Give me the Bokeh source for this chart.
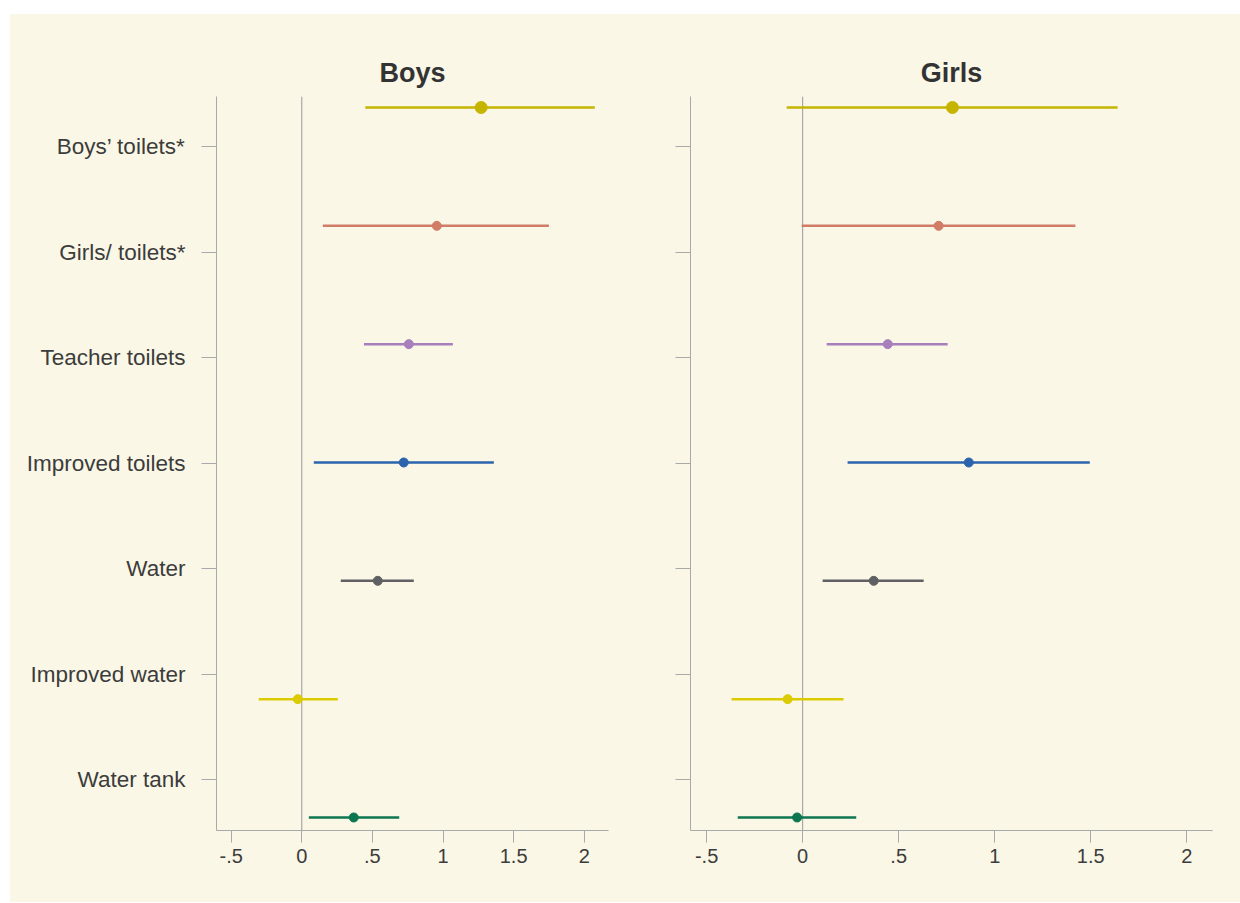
from bokeh.plotting import figure
from bokeh.models import Range1d, FixedTicker, Span
from bokeh.layouts import row
from bokeh.embed import file_html
from bokeh.resources import INLINE

# ---------------- data ----------------
categories = ["Boys\u2019 toilets*", "Girls/ toilets*", "Teacher toilets",
              "Improved toilets", "Water", "Improved water", "Water tank"]

boys_est = [1.27, 0.956, 0.758, 0.722, 0.538, -0.028, 0.368]
boys_lo = [0.45, 0.149, 0.44, 0.085, 0.276, -0.305, 0.05]
boys_hi = [2.075, 1.75, 1.07, 1.36, 0.793, 0.255, 0.69]

girls_est = [0.78, 0.708, 0.443, 0.865, 0.37, -0.078, -0.029]
girls_lo = [-0.083, -0.005, 0.125, 0.234, 0.104, -0.37, -0.338]
girls_hi = [1.64, 1.42, 0.755, 1.495, 0.63, 0.213, 0.279]

x_ticks = [-0.5, 0, 0.5, 1, 1.5, 2]
x_tick_labels = ["-.5", "0", ".5", "1", "1.5", "2"]

# ---------------- styles ----------------
colors = ["#c6b500", "#d07c66", "#a67fbc", "#2b63ad", "#5f5f64", "#dccb00", "#0d7650"]
marker_sizes = [12, 9, 9, 9, 9, 9, 9]
CREAM = "#faf7e6"
AXIS = "#a9a9a9"
TEXT = "#3c3c3c"
FONT = "Liberation Sans"

n = len(categories)
pos = list(range(1, n + 1))


def make_panel(title, est, lo, hi, x_start, x_end, frame_w, b_left, b_right, show_labels):
    p = figure(frame_width=frame_w, frame_height=734,
               x_range=Range1d(x_start, x_end),
               y_range=Range1d(n + 0.483, 0.526),
               output_backend="svg", toolbar_location=None,
               min_border_left=b_left, min_border_right=b_right,
               min_border_top=82, min_border_bottom=72,
               background_fill_color=CREAM, border_fill_color=CREAM,
               outline_line_color=None)
    p.extra_y_ranges = {"pts": Range1d(n + 0.110, 0.907)}
    p.xgrid.visible = False
    p.ygrid.visible = False

    p.title.text = title
    p.title.align = "center"
    p.title.text_font = FONT
    p.title.text_font_size = "27px"
    p.title.text_font_style = "bold"
    p.title.text_color = "#333333"
    p.title.standoff = 17

    # y axis
    yax = p.yaxis[0]
    yax.ticker = FixedTicker(ticks=pos)
    yax.major_label_overrides = {i: (c if show_labels else "") for i, c in zip(pos, categories)}
    yax.major_tick_out = 15
    yax.major_tick_in = 0
    yax.minor_tick_out = 0
    yax.minor_tick_in = 0
    yax.axis_line_color = AXIS
    yax.major_tick_line_color = AXIS
    yax.major_label_text_font = FONT
    yax.major_label_text_font_size = "22.5px"
    yax.major_label_text_color = TEXT
    yax.major_label_standoff = 16

    # x axis
    xax = p.xaxis[0]
    xax.ticker = FixedTicker(ticks=x_ticks)
    xax.major_label_overrides = {t: l for t, l in zip(x_ticks, x_tick_labels)}
    xax.major_tick_out = 12
    xax.major_tick_in = 0
    xax.minor_tick_out = 0
    xax.minor_tick_in = 0
    xax.axis_line_color = AXIS
    xax.major_tick_line_color = AXIS
    xax.major_label_text_font = FONT
    xax.major_label_text_font_size = "20px"
    xax.major_label_text_color = TEXT
    xax.major_label_standoff = 6

    p.add_layout(Span(location=0, dimension="height", line_color="#9a9a9a",
                      line_width=1, level="underlay"))

    p.segment(x0=lo, y0=pos, x1=hi, y1=pos, y_range_name="pts",
              line_color=colors, line_width=2.5)
    p.scatter(x=est, y=pos, size=marker_sizes, fill_color=colors,
              line_color=colors, y_range_name="pts")
    return p


p1 = make_panel("Boys", boys_est, boys_lo, boys_hi, -0.604, 2.172, 392, 206, 32, True)
p2 = make_panel("Girls", girls_est, girls_lo, girls_hi, -0.584, 2.134, 522, 50, 28, False)

layout = row(p1, p2, margin=(14, 0, 0, 10), styles={"background-color": CREAM})
open("out.html", "w").write(file_html(layout, INLINE))
